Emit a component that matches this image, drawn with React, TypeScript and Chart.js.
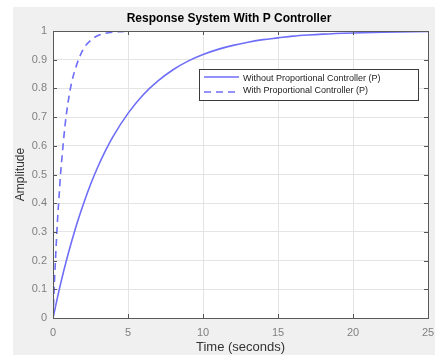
import React, { useEffect, useRef } from 'react';
import { Chart, registerables } from 'chart.js';
Chart.register(...registerables);

const chartTitle = 'Response System With P Controller';
const xAxisTitle = 'Time (seconds)';
const yAxisTitle = 'Amplitude';

const seriesNames = ['Without Proportional Controller (P)', 'With Proportional Controller (P)'];

const solidTime = [0, 0.5, 1, 1.5, 2, 2.5, 3, 3.5, 4, 5, 6, 7, 8, 9, 10, 11, 12, 13, 14, 15, 16, 17, 18, 20, 22, 25];
const solidAmp = [0, 0.118, 0.221, 0.313, 0.393, 0.465, 0.528, 0.583, 0.632, 0.713, 0.777, 0.826, 0.865, 0.895, 0.918, 0.936, 0.95, 0.961, 0.97, 0.976, 0.982, 0.986, 0.989, 0.993, 0.996, 0.998];

const dashedTime = [0, 0.1, 0.2, 0.3, 0.4, 0.5, 0.6, 0.8, 1, 1.2, 1.5, 2, 2.5, 3, 3.5, 4, 5, 6, 8, 10, 15, 20, 25];
const dashedAmp = [0, 0.13, 0.24, 0.34, 0.42, 0.5, 0.56, 0.67, 0.75, 0.81, 0.87, 0.935, 0.967, 0.984, 0.992, 0.996, 0.999, 1, 1, 1, 1, 1, 1];

const xTickValues = [0, 5, 10, 15, 20, 25];
const xTickLabels = ['0', '5', '10', '15', '20', '25'];
const yTickValues = [0, 0.1, 0.2, 0.3, 0.4, 0.5, 0.6, 0.7, 0.8, 0.9, 1];
const yTickLabels = ['0', '0.1', '0.2', '0.3', '0.4', '0.5', '0.6', '0.7', '0.8', '0.9', '1'];

const LINE_COLOR = 'rgb(110,110,248)';
const FONT = "'Liberation Sans', Arial, sans-serif";

const decor = {
  id: 'decor',
  beforeDraw(chart: any) {
    const { ctx, width, height, chartArea: a } = chart;
    ctx.save();
    ctx.fillStyle = '#ffffff';
    ctx.fillRect(0, 0, width, height);
    ctx.fillStyle = '#f0f0f0';
    ctx.fillRect(13, 7, width - 13, height - 7);
    ctx.fillStyle = '#ffffff';
    ctx.fillRect(a.left, a.top, a.right - a.left, a.bottom - a.top);
    ctx.restore();
  },
  afterDatasetsDraw(chart: any) {
    const { ctx, chartArea: a, scales } = chart;
    ctx.save();
    // inward ticks
    ctx.strokeStyle = '#555';
    ctx.lineWidth = 1;
    ctx.beginPath();
    xTickValues.forEach((v) => {
      const px = Math.round(scales.x.getPixelForValue(v)) + 0.5;
      ctx.moveTo(px, a.bottom);
      ctx.lineTo(px, a.bottom - 4);
      ctx.moveTo(px, a.top);
      ctx.lineTo(px, a.top + 4);
    });
    yTickValues.forEach((v) => {
      const py = Math.round(scales.y.getPixelForValue(v)) + 0.5;
      ctx.moveTo(a.left, py);
      ctx.lineTo(a.left + 4, py);
      ctx.moveTo(a.right, py);
      ctx.lineTo(a.right - 4, py);
    });
    ctx.stroke();
    // box
    ctx.strokeStyle = '#5a5a5a';
    ctx.strokeRect(Math.round(a.left) + 0.5, Math.round(a.top) + 0.5, Math.round(a.right - a.left), Math.round(a.bottom - a.top));

    // legend
    const lx = 199.5, ly = 69.5, lw = 219, lh = 31;
    ctx.fillStyle = '#ffffff';
    ctx.fillRect(lx, ly, lw, lh);
    ctx.strokeStyle = '#3a3a3a';
    ctx.lineWidth = 1;
    ctx.strokeRect(lx, ly, lw, lh);
    const rows = [77, 92];
    chart.data.datasets.forEach((ds: any, i: number) => {
      const y = rows[i];
      ctx.strokeStyle = ds.borderColor;
      ctx.lineWidth = ds.borderWidth;
      ctx.setLineDash(ds.borderDash || []);
      ctx.beginPath();
      ctx.moveTo(204, y);
      ctx.lineTo(239, y);
      ctx.stroke();
      ctx.setLineDash([]);
      ctx.fillStyle = '#222';
      ctx.font = `9px ${FONT}`;
      ctx.textAlign = 'left';
      ctx.textBaseline = 'middle';
      ctx.fillText(ds.label, 243, y + (i === 0 ? 2 : -1));
    });
    ctx.restore();
  },
  afterDraw(chart: any) {
    const { ctx } = chart;
    ctx.save();
    ctx.fillStyle = '#000';
    ctx.font = `bold 12px ${FONT}`;
    ctx.textAlign = 'center';
    ctx.textBaseline = 'middle';
    ctx.fillText(chartTitle, 229, 19);
    ctx.restore();
  },
};

export default function App() {
  const ref = useRef<HTMLCanvasElement | null>(null);

  useEffect(() => {
    if (!ref.current) return;
    const chart = new Chart(ref.current, {
      type: 'line',
      data: {
        datasets: [
          {
            label: seriesNames[0],
            data: solidTime.map((t, i) => ({ x: t, y: solidAmp[i] })),
            borderColor: LINE_COLOR,
            borderWidth: 1.6,
            pointRadius: 0,
            cubicInterpolationMode: 'monotone',
            fill: false,
          },
          {
            label: seriesNames[1],
            data: dashedTime.map((t, i) => ({ x: t, y: dashedAmp[i] })),
            borderColor: LINE_COLOR,
            borderWidth: 1.6,
            borderDash: [7, 5],
            pointRadius: 0,
            cubicInterpolationMode: 'monotone',
            fill: false,
          },
        ],
      },
      options: {
        animation: false,
        responsive: false,
        devicePixelRatio: 1,
        layout: { padding: { left: 13, top: 31, right: 7, bottom: 0 } },
        plugins: {
          legend: { display: false },
          tooltip: { enabled: false },
          title: { display: false },
        },
        scales: {
          x: {
            type: 'linear',
            min: 0,
            max: 25,
            afterBuildTicks: (s: any) => {
              s.ticks = xTickValues.map((v) => ({ value: v }));
            },
            afterFit: (s: any) => {
              s.height = 37;
              s.paddingLeft = 0;
              s.paddingRight = 0;
            },
            ticks: {
              callback: (_v: any, i: number) => xTickLabels[i],
              color: '#808080',
              font: { family: FONT, size: 11 },
              padding: 8,
              maxRotation: 0,
            },
            grid: { color: '#e4e4e4', drawTicks: false },
            border: { display: false },
            title: {
              display: true,
              text: xAxisTitle,
              color: '#333',
              font: { family: FONT, size: 13 },
              padding: { top: 0, bottom: 0 },
            },
          },
          y: {
            type: 'linear',
            min: 0,
            max: 1,
            afterBuildTicks: (s: any) => {
              s.ticks = yTickValues.map((v) => ({ value: v }));
            },
            afterFit: (s: any) => {
              s.width = 40;
              s.paddingTop = 0;
              s.paddingBottom = 0;
            },
            ticks: {
              callback: (_v: any, i: number) => yTickLabels[i],
              color: '#808080',
              font: { family: FONT, size: 11 },
              padding: 6,
            },
            grid: { color: '#e4e4e4', drawTicks: false },
            border: { display: false },
            title: {
              display: true,
              text: yAxisTitle,
              color: '#333',
              font: { family: FONT, size: 12 },
              padding: { top: 0, bottom: 0 },
            },
          },
        },
      },
      plugins: [decor],
    } as any);
    return () => chart.destroy();
  }, []);

  return (
    <div style={{ position: 'fixed', left: 0, top: 0, width: 435, height: 355 }}>
      <canvas ref={ref} width={435} height={355} style={{ width: 435, height: 355, display: 'block' }} />
    </div>
  );
}
